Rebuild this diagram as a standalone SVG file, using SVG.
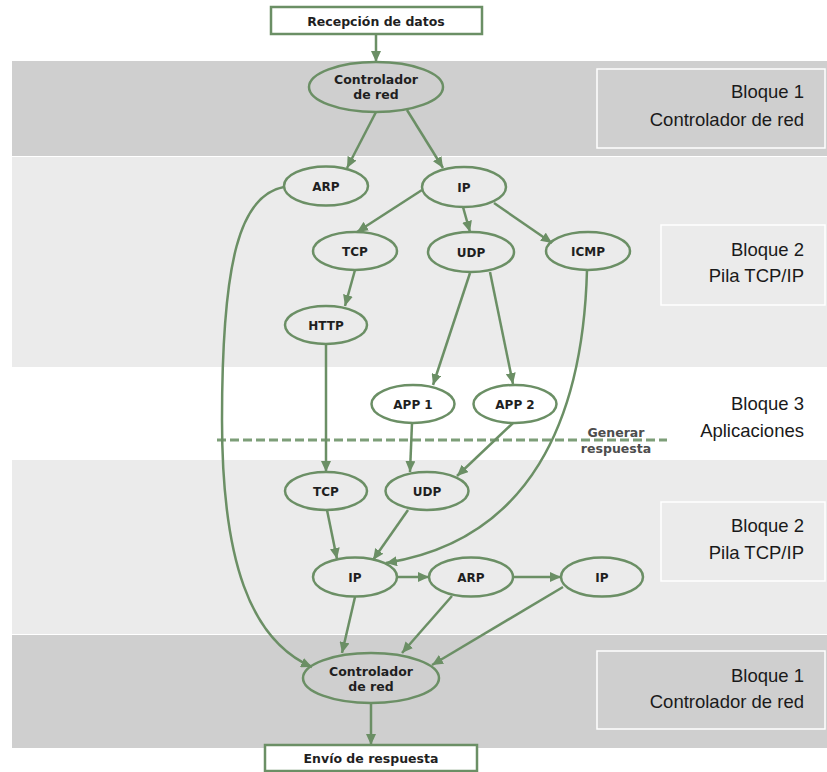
<svg xmlns="http://www.w3.org/2000/svg" width="827" height="772" viewBox="0 0 827 772">
  <style>
    .band-dark { fill: #cfcfcf; }
    .band-light { fill: #ebebeb; }
    .label-box { stroke: #ffffff; stroke-width: 1.5; }
    .label { font-family: "Liberation Sans", Arial, sans-serif; font-size: 18.5px; fill: #1a1a1a; text-anchor: end; }
    .node { fill: none; stroke: #6b8f65; stroke-width: 2.5; }
    .box { fill: #ffffff; stroke: #6b8f65; stroke-width: 2.5; }
    .ntext { font-family: "DejaVu Sans", Verdana, sans-serif; font-weight: bold; font-size: 12px; fill: #1f1f1f; text-anchor: middle; }
    .big { font-size: 12.5px; }
    .edge { fill: none; stroke: #6b8f65; stroke-width: 2.5; marker-end: url(#arrow); }
    .dash { fill: none; stroke: #7d9e78; stroke-width: 3; stroke-dasharray: 9 4; }
    .note { font-family: "DejaVu Sans", Verdana, sans-serif; font-weight: bold; font-size: 12.5px; fill: #4d4d4d; text-anchor: middle; }
  </style>
  <defs>
    <marker id="arrow" markerUnits="userSpaceOnUse" markerWidth="11" markerHeight="10" refX="11" refY="5" orient="auto">
      <path d="M0,0 L11,5 L0,10 z" fill="#6b8f65"/>
    </marker>
  </defs>

  <rect width="827" height="772" fill="#ffffff"/>

  <!-- horizontal bands -->
  <g id="bands">
    <rect class="band-dark" x="12" y="61" width="815" height="95"/>
    <rect class="band-light" x="12" y="157" width="815" height="210"/>
    <rect class="band-light" x="12" y="460" width="815" height="174"/>
    <rect class="band-dark" x="12" y="635" width="815" height="113"/>
  </g>

  <!-- block labels -->
  <g id="block1-top">
    <rect class="band-dark label-box" x="597" y="69" width="228" height="79"/>
    <text class="label" x="804" y="98">Bloque 1</text>
    <text class="label" x="804" y="126">Controlador de red</text>
  </g>
  <g id="block2-top">
    <rect class="band-light label-box" x="661" y="225" width="164" height="80"/>
    <text class="label" x="804" y="256">Bloque 2</text>
    <text class="label" x="804" y="282">Pila TCP/IP</text>
  </g>
  <g id="block3">
    <text class="label" x="804" y="410">Bloque 3</text>
    <text class="label" x="804" y="437">Aplicaciones</text>
  </g>
  <g id="block2-bottom">
    <rect class="band-light label-box" x="661" y="502" width="164" height="79"/>
    <text class="label" x="804" y="532">Bloque 2</text>
    <text class="label" x="804" y="559">Pila TCP/IP</text>
  </g>
  <g id="block1-bottom">
    <rect class="band-dark label-box" x="597" y="651" width="228" height="78"/>
    <text class="label" x="804" y="682">Bloque 1</text>
    <text class="label" x="804" y="708">Controlador de red</text>
  </g>

  <!-- response boundary -->
  <g id="generar-respuesta">
    <line class="dash" x1="217" y1="440" x2="667" y2="440"/>
    <text class="note" x="616" y="437">Generar</text>
    <text class="note" x="616" y="453">respuesta</text>
  </g>

  <!-- connectors -->
  <g id="connectors">
    <path class="edge" d="M376,34 L376,62"/>
    <path class="edge" d="M376,112 L347,168"/>
    <path class="edge" d="M407,110 L443,168"/>
    <path class="edge" d="M422,190 L357,232"/>
    <path class="edge" d="M463,207 L470,232"/>
    <path class="edge" d="M494,203 L552,243"/>
    <path class="edge" d="M355,270 L345,306"/>
    <path class="edge" d="M470,273 L433,385"/>
    <path class="edge" d="M490,272 L513,384"/>
    <path class="edge" d="M587,270 C583,420 530,540 386,563"/>
    <path class="edge" d="M284,187 C240,195 222,260 222,420 C222,560 250,640 312,667"/>
    <path class="edge" d="M326,344 L326,472"/>
    <path class="edge" d="M412,423 L410,472"/>
    <path class="edge" d="M513,423 L457,476"/>
    <path class="edge" d="M327,510 L337,559"/>
    <path class="edge" d="M408,510 L373,560"/>
    <path class="edge" d="M397,577 L429,577"/>
    <path class="edge" d="M513,577 L561,577"/>
    <path class="edge" d="M355,597 L342,653"/>
    <path class="edge" d="M452,596 L402,653"/>
    <path class="edge" d="M563,587 L432,665"/>
    <path class="edge" d="M371,703 L371,745"/>
  </g>

  <!-- nodes -->
  <g id="recepcion">
    <rect class="box" x="271" y="7" width="211" height="27"/>
    <text class="ntext big" x="376" y="26">Recepción de datos</text>
  </g>
  <g id="controlador-in">
    <ellipse class="node" cx="376" cy="87" rx="67" ry="25"/>
    <text class="ntext big" x="376" y="83.5">Controlador</text>
    <text class="ntext big" x="376" y="98.5">de red</text>
  </g>
  <g id="arp-in">
    <ellipse class="node" cx="326" cy="186" rx="42" ry="19.5"/>
    <text class="ntext" x="326" y="190.5">ARP</text>
  </g>
  <g id="ip-in">
    <ellipse class="node" cx="464" cy="187" rx="42" ry="20"/>
    <text class="ntext" x="464" y="191.5">IP</text>
  </g>
  <g id="tcp-in">
    <ellipse class="node" cx="355" cy="251" rx="42" ry="19"/>
    <text class="ntext" x="355" y="255.5">TCP</text>
  </g>
  <g id="udp-in">
    <ellipse class="node" cx="471" cy="252" rx="43" ry="20"/>
    <text class="ntext" x="471" y="256.5">UDP</text>
  </g>
  <g id="icmp">
    <ellipse class="node" cx="588" cy="251" rx="42" ry="19"/>
    <text class="ntext" x="588" y="255.5">ICMP</text>
  </g>
  <g id="http">
    <ellipse class="node" cx="326" cy="325" rx="41" ry="19"/>
    <text class="ntext" x="326" y="329.5">HTTP</text>
  </g>
  <g id="app1">
    <ellipse class="node" cx="413" cy="404" rx="41.5" ry="19"/>
    <text class="ntext" x="413" y="408.5">APP 1</text>
  </g>
  <g id="app2">
    <ellipse class="node" cx="515" cy="404" rx="41.5" ry="19"/>
    <text class="ntext" x="515" y="408.5">APP 2</text>
  </g>
  <g id="tcp-out">
    <ellipse class="node" cx="326" cy="491" rx="41" ry="19"/>
    <text class="ntext" x="326" y="495.5">TCP</text>
  </g>
  <g id="udp-out">
    <ellipse class="node" cx="427" cy="491" rx="41.5" ry="19"/>
    <text class="ntext" x="427" y="495.5">UDP</text>
  </g>
  <g id="ip-out">
    <ellipse class="node" cx="355" cy="577" rx="42" ry="19.5"/>
    <text class="ntext" x="355" y="581.5">IP</text>
  </g>
  <g id="arp-out">
    <ellipse class="node" cx="471" cy="577" rx="42" ry="19.5"/>
    <text class="ntext" x="471" y="581.5">ARP</text>
  </g>
  <g id="ip-out-2">
    <ellipse class="node" cx="602" cy="577" rx="41" ry="19.5"/>
    <text class="ntext" x="602" y="581.5">IP</text>
  </g>
  <g id="controlador-out">
    <ellipse class="node" cx="371" cy="678" rx="68" ry="25"/>
    <text class="ntext big" x="371" y="676">Controlador</text>
    <text class="ntext big" x="371" y="691">de red</text>
  </g>
  <g id="envio">
    <rect class="box" x="265" y="745" width="212" height="26"/>
    <text class="ntext big" x="371" y="763">Envío de respuesta</text>
  </g>
</svg>
